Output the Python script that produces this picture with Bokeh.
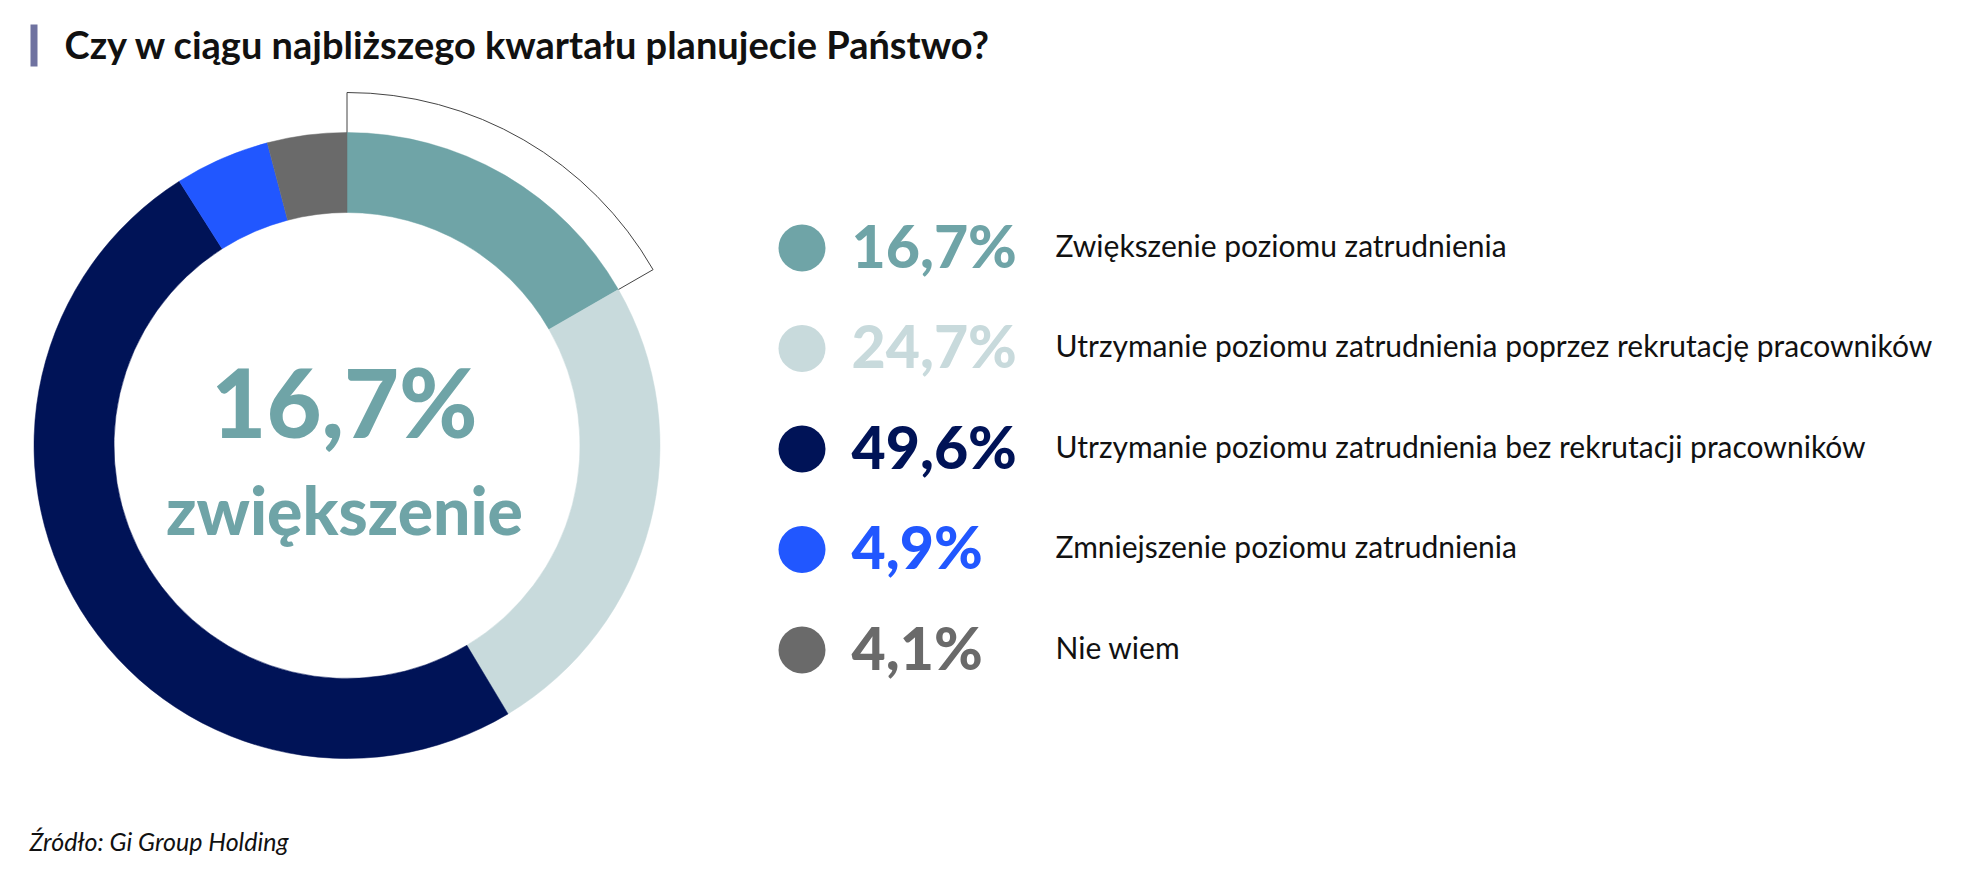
import math
from bokeh.plotting import figure
from bokeh.models import Range1d, ColumnDataSource
from bokeh.core.properties import value
from bokeh.embed import file_html
from bokeh.resources import INLINE

# ---- data ----
title = "Czy w ciągu najbliższego kwartału planujecie Państwo?"
source_note = "Źródło: Gi Group Holding"
categories = [
    "Zwiększenie poziomu zatrudnienia",
    "Utrzymanie poziomu zatrudnienia poprzez rekrutację pracowników",
    "Utrzymanie poziomu zatrudnienia bez rekrutacji pracowników",
    "Zmniejszenie poziomu zatrudnienia",
    "Nie wiem",
]
values = [16.7, 24.7, 49.6, 4.9, 4.1]
pct_labels = ["16,7%", "24,7%", "49,6%", "4,9%", "4,1%"]
colors = ["#6FA4A7", "#C8DADC", "#001357", "#2157FF", "#6A6A6A"]
center_value = "16,7%"
center_word = "zwiększenie"

W, H = 1949, 869
FONT = "Lato"
HEAVY = "'Lato Black', 'Lato Heavy', Lato"
K = 0.37  # baseline correction factor (fraction of font size)

p = figure(width=W, height=H, output_backend="svg", toolbar_location=None,
           x_range=Range1d(0, W), y_range=Range1d(0, H), min_border=0)
p.axis.visible = False
p.grid.visible = False
p.outline_line_color = None
p.background_fill_color = "white"
p.border_fill_color = "white"


def Y(screen_y):
    return H - screen_y


def X(screen_x):
    return screen_x


def text(x, y, t, size, color, font=FONT, style="normal", align="left"):
    p.text(x=x, y=[Y(v) + K * size for v in y], text=t, text_font=value(font),
           text_font_style=style, text_font_size=f"{size}px", text_color=color,
           text_align=align, text_baseline="alphabetic")


# ---- donut ----
cx, cy = X(346.5), Y(445)
r_in, r_out, r_hl = 233, 313, 353
total = sum(values)
starts, ends = [], []
cum = 0.0
for v in values:
    starts.append(math.pi / 2 - 2 * math.pi * cum / total)
    cum += v
    ends.append(math.pi / 2 - 2 * math.pi * cum / total)

# highlight outline of first slice (drawn first, underneath)
p.annular_wedge(x=cx, y=cy, inner_radius=r_out - 1, outer_radius=r_hl,
                start_angle=starts[0], end_angle=ends[0], direction="clock",
                fill_color=None, line_color="#444444", line_width=1)

src = ColumnDataSource(dict(start=starts, end=ends, color=colors))
p.annular_wedge(x=cx, y=cy, inner_radius=r_in, outer_radius=r_out,
                start_angle="start", end_angle="end", direction="clock",
                fill_color="color", line_color="color", line_width=0.5, source=src)

# center text
text([X(344)], [436], [center_value], 95, colors[0], font=HEAVY, style="bold",
     align="center")
text([X(344)], [533], [center_word], 66, colors[0], font=HEAVY, style="bold",
     align="center")

# ---- legend ----
row0, step = 247.5, 100.5
rows_s = [row0 + i * step for i in range(len(values))]
p.scatter(x=[X(801.5)] * len(values), y=[Y(r) for r in rows_s], size=47,
          marker="circle", fill_color=colors, line_color=None)
text([X(851)] * len(values), [r + 19 for r in rows_s], pct_labels, 59, colors,
     font=HEAVY, style="bold")
text([X(1055)] * len(values), [r + 8 for r in rows_s], categories, 30, "#111111")

# ---- title ----
p.quad(left=[X(30)], right=[X(37)], top=[Y(24)], bottom=[Y(66)],
       fill_color="#6F72A0", line_color=None)
text([X(64)], [58], [title], 38, "#111111", style="bold")

# ---- source ----
text([X(29)], [850], [source_note], 25, "#111111", style="italic")

open("out.html", "w").write(file_html(p, INLINE))
